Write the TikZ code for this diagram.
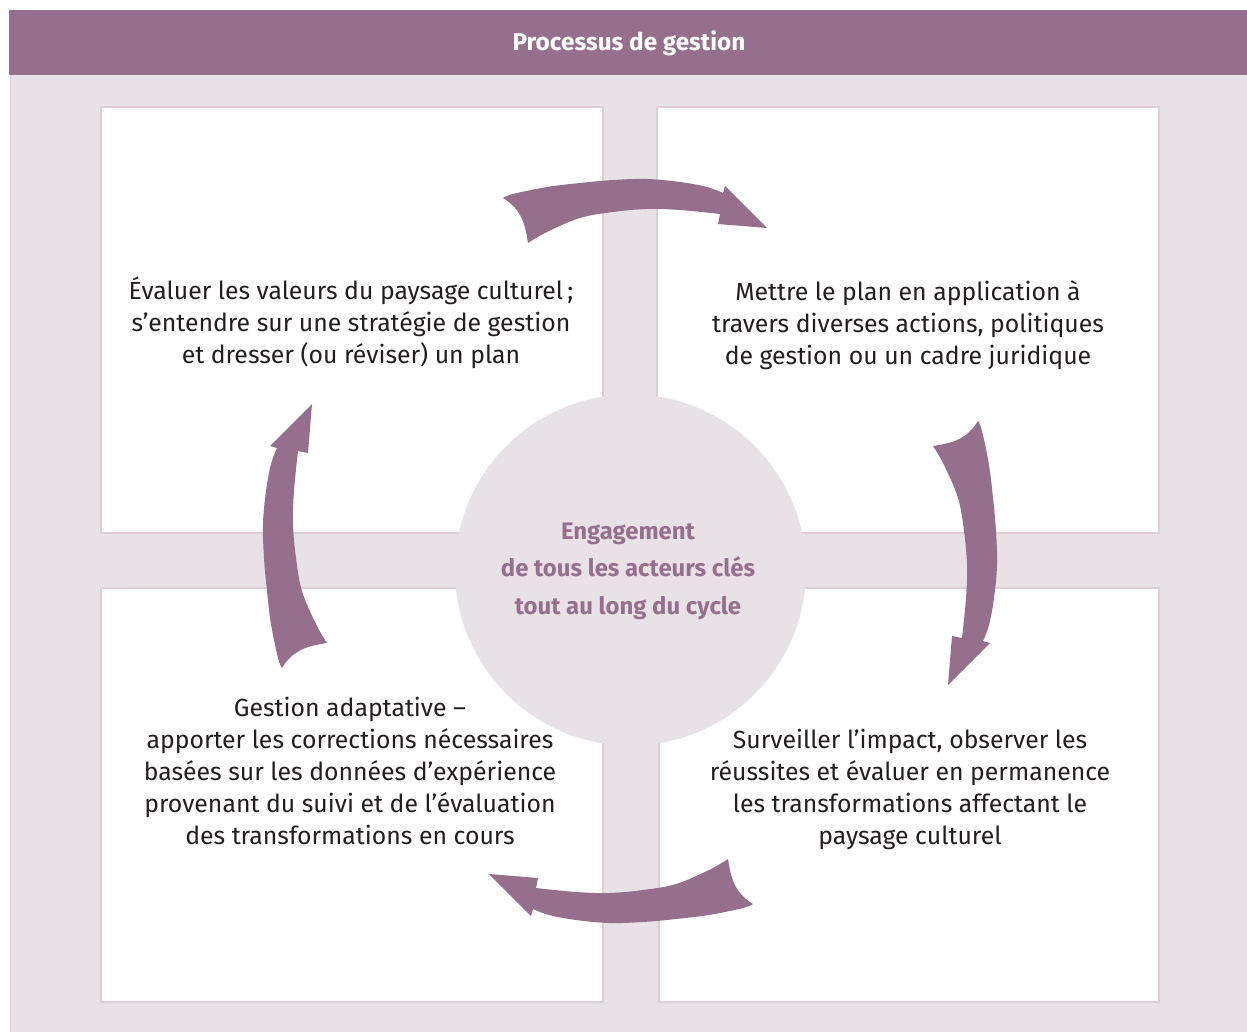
\documentclass[tikz,border=0pt]{standalone}
\usepackage{fontspec}
\setmainfont{Fira Sans}
\definecolor{mauve}{RGB}{150,111,140}
\definecolor{panel}{RGB}{232,225,230}
\definecolor{boxline}{RGB}{221,206,216}
\definecolor{ink}{RGB}{35,31,32}
\begin{document}
\begin{tikzpicture}[x=1pt,y=-1pt,
  quad/.style={fill=white,draw=boxline,line width=1.2pt},
  bodytext/.style={align=center,text=ink,font=\fontsize{24.8}{32}\selectfont},
  hubtext/.style={align=center,text=mauve,font=\fontsize{23.9}{37.5}\selectfont\bfseries},
  cyclearrow/.pic={
    \fill[mauve] plot[smooth,tension=0.6] coordinates {(-132,-17) (-122,-21) (-88,-28) (-55,-32) (-22,-35) (12,-36) (45,-33) (72,-28) (88,-22)}
      -- (90,-29) -- (132,13) -- (83,9)
      -- plot[smooth,tension=0.6] coordinates {(85,-1) (45,-5) (12,-6) (-22,-3) (-55,3) (-88,17) (-107,28)}
      .. controls (-110,8) and (-114,-6) .. (-132,-17) -- cycle;
  }]
\useasboundingbox (0,0) rectangle (1247,1032);
\fill[white] (0,0) rectangle (1247,1032);
% panel
\fill[panel] (10,75) rectangle (1247,1032);
\draw[boxline,line width=1.5pt] (10.5,75) -- (10.5,1032);
% header
\fill[mauve] (9,10) rectangle (1247,75);
\node[text=white,font=\fontsize{24.3}{28}\selectfont\bfseries] (title) at (629,43) {Processus de gestion};
% quadrants
\draw[quad] (101,107) rectangle (603,533);
\draw[quad] (657,107) rectangle (1159,533);
\draw[quad] (101,588) rectangle (603,1002);
\draw[quad] (659,588) rectangle (1159,1002);
% hub
\node[circle,fill=panel,minimum size=351pt,inner sep=0pt] (hub) at (630.5,570) {};
\node[hubtext] (hubt) at (628,571) {Engagement\\de tous les acteurs clés\\tout au long du cycle};
% texts
\node[bodytext] (t1) at (351,323) {Évaluer les valeurs du paysage culturel\,;\\s’entendre sur une stratégie de gestion\\et dresser (ou réviser) un plan};
\node[bodytext] (t2) at (908,325) {Mettre le plan en application à\\travers diverses actions, politiques\\de gestion ou un cadre juridique};
\node[bodytext] (t3) at (910,789) {Surveiller l’impact, observer les\\réussites et évaluer en permanence\\les transformations affectant le\\paysage culturel};
\node[bodytext] (t4) at (350,771) {Gestion adaptative –\\apporter les corrections nécessaires\\basées sur les données d’expérience\\provenant du suivi et de l’évaluation\\des transformations en cours};
% arrows
\pic at (635,215) {cyclearrow};
\pic[rotate=-90] at (961,553) {cyclearrow};
\pic[rotate=180] at (621,887) {cyclearrow};
\pic[rotate=90] at (299,536) {cyclearrow};
\end{tikzpicture}
\end{document}
